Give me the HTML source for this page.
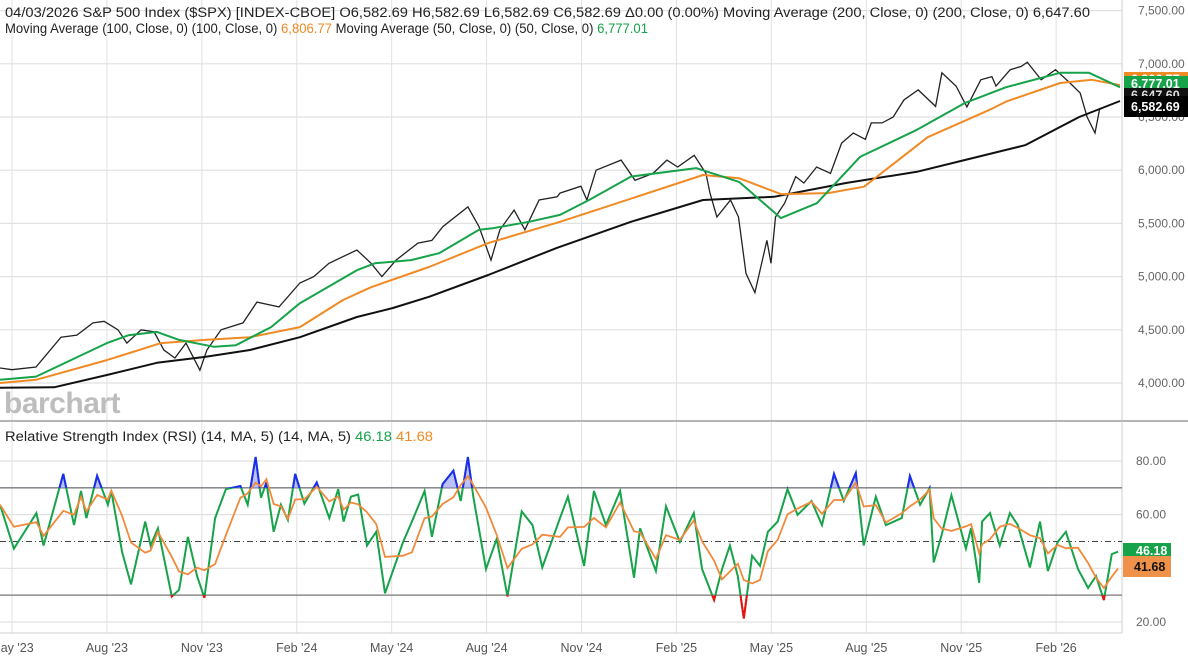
<!DOCTYPE html>
<html><head><meta charset="utf-8">
<style>
html,body{margin:0;padding:0;background:#fff;}
body{width:1188px;height:661px;overflow:hidden;font-family:"Liberation Sans",sans-serif;}
svg{display:block}
</style></head>
<body>
<svg id="chart" width="1188" height="661" xmlns="http://www.w3.org/2000/svg"></svg>
<script>
// ---------- DATA ----------
// x-axis: months since May 1, 2023
const priceMonths = [-0.38,0,0.76,1.55,2.05,2.56,2.91,3.35,3.63,4.08,4.49,4.80,5.15,5.50,5.94,6.16,6.61,7.30,7.74,8.44,9.10,9.54,10.02,10.90,11.35,11.69,12.14,12.83,13.27,13.62,14.41,14.76,15.14,15.42,15.87,16.21,16.66,17.23,
  17.32,17.98,18.17,18.46,19.25,19.69,20.26,20.70,21.04,21.56,21.93,22.06,22.28,22.71,22.96,23.20,23.48,23.86,23.99,24.13,24.42,24.77,25.03,25.43,25.87,26.22,26.59,26.97,27.16,27.50,27.85,28.19,28.64,29.19,29.39,29.84,30.18,30.62,30.97,31.10,31.55,31.89,32.09,32.53,32.98,33.44,33.76,33.98,34.23,34.38];
const priceValues = [4141,4125,4150,4430,4450,4565,4580,4500,4375,4500,4480,4310,4235,4375,4120,4310,4500,4565,4760,4715,4940,5000,5125,5250,5125,5000,5155,5315,5340,5470,5655,5470,5155,5440,5625,5440,5720,5750,
  5785,5850,5720,6000,6095,5905,5970,6095,6030,6140,5970,5785,5560,5720,5560,5030,4850,5340,5125,5560,5690,5940,5880,6030,5970,6255,6350,6290,6445,6445,6500,6660,6755,6600,6915,6790,6595,6850,6880,6790,6945,6975,7015,6850,6945,6820,6725,6500,6350,6582.69];
const ma200Months = [-0.38,1.33,3.0,4.58,6.10,7.52,9.10,10.90,12.04,13.18,15.05,17.22,19.56,21.84,24.08,26.36,28.60,30.10,32.02,33.73,35.02];
const ma200Values = [3955,3960,4075,4190,4245,4310,4430,4620,4705,4810,5015,5270,5515,5720,5750,5880,5985,6095,6235,6500,6650];
const ma100Months = [-0.38,0.76,3.0,4.71,6.10,7.52,9.10,10.46,11.35,13.18,15.05,17.32,18.46,21.84,22.98,24.30,25.79,26.93,28.94,30.88,31.42,33.13,34.13,35.02];
const ma100Values = [4000,4030,4215,4375,4405,4430,4525,4780,4900,5090,5315,5515,5625,5955,5925,5775,5785,5845,6310,6565,6645,6820,6850,6800];
const ma50Months = [-0.38,0.76,3.0,3.70,4.58,5.28,6.39,7.08,8.19,9.10,10.90,11.47,12.61,13.50,14.76,15.20,16.34,17.32,18.24,19.56,21.62,22.98,24.30,25.44,26.80,28.60,30.10,31.42,33.13,34.04,35.02];
const ma50Values = [4030,4060,4375,4450,4480,4405,4340,4355,4525,4750,5060,5125,5155,5220,5440,5455,5515,5580,5720,5940,6020,5890,5550,5690,6125,6380,6630,6780,6915,6915,6780];
const rsiMonths = [-0.38,0.06,0.77,1.00,1.62,1.96,2.18,2.35,2.69,3.03,3.14,3.48,3.76,4.21,4.38,4.61,5.05,5.28,5.56,5.85,6.08,6.42,6.76,7.22,7.45,7.70,7.87,8.04,8.27,8.50,8.72,8.95,9.24,9.63,10.03,10.31,10.48,10.71,10.94,11.22,11.51,11.79,12.36,12.64,13.04,13.27,13.61,13.95,14.18,14.41,14.58,14.98,15.32,15.66,16.11,16.45,16.76,
  17.32,17.57,18.08,18.39,18.77,19.22,19.66,19.85,20.35,20.67,21.11,21.55,21.81,22.19,22.44,22.69,22.94,23.13,23.39,23.64,23.89,24.2,24.51,24.83,25.27,25.6,25.98,26.29,26.67,26.92,27.3,27.62,28.12,28.38,28.7,29.0,29.13,29.38,29.69,30.15,30.31,30.57,30.66,30.91,31.22,31.54,31.79,32.17,32.49,32.74,33.05,33.31,33.69,34.01,34.26,34.51,34.76,34.96];
const rsiValues = [63.7,47.3,60.6,48.5,75.2,56.1,68.8,58.7,74.5,63.7,68.8,46.1,34,57.4,48.5,54.9,29.5,32,51.7,37.1,29,58.7,69.5,70.7,63.7,81.5,66.3,72,53.6,63.7,58,75.2,64.1,72,58.7,69.5,57.4,66.7,67.5,48.5,53.6,30.7,49.8,57.4,68.8,51.7,71.4,76.4,65.1,81.5,66.7,39.7,51,29.5,61.2,56.1,40.3,
  58.7,66.7,40.9,68.8,56.1,68.8,36.5,54.9,39,63.1,49.8,60.6,39.7,28.2,39.7,48.5,37.1,21.3,44.7,40.9,53.6,57.4,69.5,59.9,65.1,56.1,75.2,65.1,75.5,48.5,66.7,56.1,58.7,74.4,63.7,69.9,42.2,52.4,67.2,47.3,54.9,34.6,57.4,60.6,48.5,60.6,56.1,40.3,57.4,39,49.8,53.6,39.7,32.7,37.1,28.2,45.3,46.18];
const xTickLabels = ["May '23","Aug '23","Nov '23","Feb '24","May '24","Aug '24","Nov '24","Feb '25","May '25","Aug '25","Nov '25","Feb '26"];
const xTickMonths = [0,3,6,9,12,15,18,21,24,27,30,33];
const priceTicks = [7500,7000,6500,6000,5500,5000,4500,4000];
const rsiTicks = [80,60,40,20];

// ---------- SCALES ----------
const X = m => 12 + m * 31.64;
const PY = v => 383 - (v - 4000) * 0.1064;
const RY = v => 461 + (80 - v) * 2.683;
const NS = "http://www.w3.org/2000/svg";
const svg = document.getElementById('chart');
function mk(tag, attrs, parent){const e=document.createElementNS(NS,tag);for(const k in attrs)e.setAttribute(k,attrs[k]);(parent||svg).appendChild(e);return e;}
function pathFrom(ms, vs, sy){return ms.map((m,i)=>(i?'L':'M')+X(m).toFixed(1)+','+sy(vs[i]).toFixed(1)).join(' ');}

const defs = mk('defs',{});
const cp1 = mk('clipPath',{id:'plotClip'},defs); mk('rect',{x:0,y:0,width:1122,height:420},cp1);
const cp2 = mk('clipPath',{id:'obClip'},defs); mk('rect',{x:0,y:420,width:1122,height:RY(70)-420},cp2);
const cp3 = mk('clipPath',{id:'osClip'},defs); mk('rect',{x:0,y:RY(30),width:1122,height:640-RY(30)},cp3);

// ---------- GRID ----------
const grid = mk('g',{});


xTickMonths.forEach(m=>{ mk('line',{x1:X(m),x2:X(m),y1:0,y2:633,stroke:'#e1e1e1','stroke-width':1},grid); });
priceTicks.forEach(v=>{ mk('line',{x1:0,x2:1122,y1:PY(v),y2:PY(v),stroke:'#e1e1e1','stroke-width':1.2},grid); });
[80,60,40,20].forEach(v=>{ mk('line',{x1:0,x2:1122,y1:RY(v),y2:RY(v),stroke:'#e1e1e1','stroke-width':1.2},grid); });
mk('line',{x1:1122,x2:1122,y1:0,y2:633,stroke:'#cfcfcf','stroke-width':1});
mk('line',{x1:0,x2:1122,y1:633,y2:633,stroke:'#cfcfcf','stroke-width':1});
const sep = mk('line',{x1:0,x2:1188,y1:421,y2:421,stroke:'#b5b5b5','stroke-width':2});



const wm = mk('text',{x:4,y:413,'font-size':30,'font-weight':'bold',fill:'#bdbdbd','font-family':'"Liberation Sans",sans-serif','letter-spacing':'-0.5'});
wm.textContent='barchart';



// ---------- PRICE PANEL ----------
const pg = mk('g',{'clip-path':'url(#plotClip)'});
const pLine = mk('path',{d:pathFrom(priceMonths,priceValues,PY),fill:'none',stroke:'#222','stroke-width':1.3},pg);


const m200 = mk('path',{d:pathFrom(ma200Months,ma200Values,PY),fill:'none',stroke:'#111','stroke-width':2,'stroke-linejoin':'round'},pg);


const m100 = mk('path',{d:pathFrom(ma100Months,ma100Values,PY),fill:'none',stroke:'#f08a24','stroke-width':2,'stroke-linejoin':'round'},pg);


const m50 = mk('path',{d:pathFrom(ma50Months,ma50Values,PY),fill:'none',stroke:'#16a34a','stroke-width':2,'stroke-linejoin':'round'},pg);



priceTicks.forEach(v=>{
  const t = mk('text',{x:1138,y:PY(v)+4,'font-size':12,fill:'#666','font-family':'"Liberation Sans",sans-serif'});
  t.textContent = v.toLocaleString('en-US',{minimumFractionDigits:2});
  
  
});

function tag(y,h,bg,fg,txt,name){
  const g = mk('g',{});
  
  
  mk('rect',{x:1124,y:y,width:64,height:h,fill:bg},g);
  const t = mk('text',{x:1131,y:y+h/2+4.5,'font-size':12.5,'font-weight':'bold',fill:fg,'font-family':'"Liberation Sans",sans-serif'},g);
  t.textContent=txt;
}
tag(72,14,'#f08a24','#fff','6,806.77','ma-100-tag');
tag(76,15,'#16a34a','#fff','6,777.01','ma-50-tag');
tag(88,14,'#111','#ddd','6,647.60','ma-200-tag');
tag(96,21,'#000','#fff','6,582.69','last-price-tag');

const h1 = mk('text',{x:5,y:17,'font-size':13.5,fill:'#222','font-family':'"Liberation Sans",sans-serif',textLength:1085,lengthAdjust:'spacingAndGlyphs'});
h1.textContent='04/03/2026 S&P 500 Index ($SPX) [INDEX-CBOE] O6,582.69 H6,582.69 L6,582.69 C6,582.69 \u03940.00 (0.00%) Moving Average (200, Close, 0)  (200, Close, 0) 6,647.60';


const h2 = mk('text',{x:5,y:33,'font-size':13.5,fill:'#222','font-family':'"Liberation Sans",sans-serif',textLength:643,lengthAdjust:'spacingAndGlyphs'});
h2.innerHTML='Moving Average (100, Close, 0)  (100, Close, 0) <tspan fill="#f08a24">6,806.77</tspan> Moving Average (50, Close, 0)  (50, Close, 0) <tspan fill="#16a34a">6,777.01</tspan>';



// ---------- RSI PANEL ----------
const h3 = mk('text',{x:5,y:441,'font-size':13.5,fill:'#222','font-family':'"Liberation Sans",sans-serif',textLength:428,lengthAdjust:'spacingAndGlyphs'});
h3.innerHTML='Relative Strength Index (RSI) (14, MA, 5)  (14, MA, 5) <tspan fill="#16a34a">46.18</tspan> <tspan fill="#f08a24">41.68</tspan>';



[70,30].forEach(v=>{
  const l = mk('line',{x1:0,x2:1122,y1:RY(v),y2:RY(v),stroke:'#777','stroke-width':1.3});
  
  
});
const mid = mk('line',{x1:0,x2:1122,y1:RY(50),y2:RY(50),stroke:'#444','stroke-width':1,'stroke-dasharray':'6,3,1,3'});



const rsiD = pathFrom(rsiMonths,rsiValues,RY);
const areaD = rsiD + ` L${X(rsiMonths[rsiMonths.length-1])},${RY(70)} L${X(rsiMonths[0])},${RY(70)} Z`;
mk('path',{d:areaD,fill:'#9fa8f5',opacity:0.7,'clip-path':'url(#obClip)'});
const rsiMA = rsiValues.map((v,i)=>{const s=rsiValues.slice(Math.max(0,i-2),i+1);return s.reduce((a,b)=>a+b,0)/s.length;});
const rl = mk('path',{d:rsiD,fill:'none',stroke:'#16a34a','stroke-width':2});


mk('path',{d:rsiD,fill:'none',stroke:'#1d2cf0','stroke-width':2,'clip-path':'url(#obClip)'});
mk('path',{d:rsiD,fill:'none',stroke:'#ee1111','stroke-width':2,'clip-path':'url(#osClip)'});
const rma = mk('path',{d:pathFrom(rsiMonths,rsiMA,RY),fill:'none',stroke:'#f08a3c','stroke-width':1.8});



rsiTicks.forEach(v=>{
  const t = mk('text',{x:1136,y:RY(v)+4,'font-size':12,fill:'#666','font-family':'"Liberation Sans",sans-serif'});
  t.textContent=v.toFixed(2);
  
  
});
const g1 = mk('g',{});


mk('rect',{x:1123,y:543,width:48,height:14,fill:'#16a34a'},g1);
const g1t = mk('text',{x:1136,y:555,'font-size':12.5,'font-weight':'bold',fill:'#fff'},g1); g1t.textContent='46.18';
const g2 = mk('g',{});


mk('rect',{x:1123,y:556,width:48,height:21,fill:'#f0914a'},g2);
const g2t = mk('text',{x:1134,y:571,'font-size':12.5,'font-weight':'bold',fill:'#111'},g2); g2t.textContent='41.68';

xTickLabels.forEach((lab,i)=>{
  const t = mk('text',{x:X(xTickMonths[i]),y:652,'font-size':12.5,fill:'#555','text-anchor':'middle','font-family':'"Liberation Sans",sans-serif'});
  t.textContent=lab;
  
  
});
</script>
</body></html>
